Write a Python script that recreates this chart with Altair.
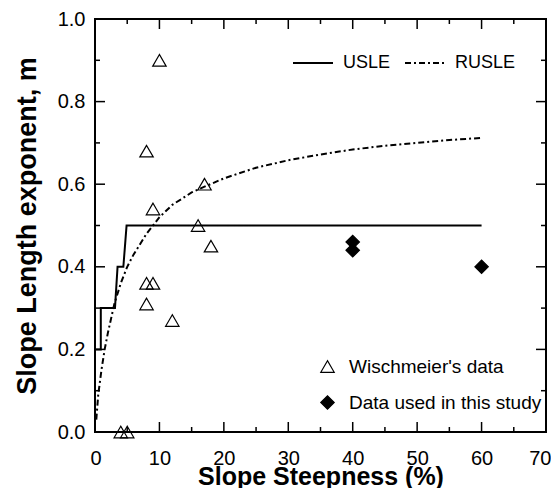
import altair as alt
import pandas as pd

# ---- data ----
model_names = ["USLE", "RUSLE"]
usle_x = [0.0, 0.9, 0.9, 3.1, 3.5, 4.4, 4.9, 60.0]
usle_m = [0.2, 0.2, 0.3, 0.3, 0.4, 0.4, 0.5, 0.5]
rusle_x = [0.2, 0.5, 1, 1.5, 2, 3, 4, 5, 6, 8, 10, 12, 15, 17, 20, 25, 30, 35, 40, 45, 50, 55, 60]
rusle_m = [0.03, 0.09, 0.15, 0.20, 0.24, 0.31, 0.36, 0.40, 0.43, 0.48, 0.52, 0.55, 0.58, 0.594,
           0.614, 0.640, 0.658, 0.672, 0.684, 0.693, 0.700, 0.707, 0.712]

series_names = ["Wischmeier's data", "Data used in this study"]
wisch_x = [4, 5, 8, 8, 8, 9, 9, 10, 12, 16, 17, 18]
wisch_m = [0.0, 0.0, 0.31, 0.36, 0.68, 0.36, 0.54, 0.90, 0.27, 0.50, 0.60, 0.45]
study_x = [40, 40, 60]
study_m = [0.46, 0.44, 0.40]

x_labels = [0, 10, 20, 30, 40, 50, 60, 70]
y_labels = [0.0, 0.2, 0.4, 0.6, 0.8, 1.0]
x_ticks = [0, 5, 10, 15, 20, 25, 30, 35, 40, 45, 50, 55, 60, 65, 70]
y_ticks = [0.0, 0.1, 0.2, 0.3, 0.4, 0.5, 0.6, 0.7, 0.8, 0.9, 1.0]

W, H = 451, 413
MAJOR, MINOR = 10, 5
FONT = "Liberation Sans"

lines = pd.DataFrame({
    "x": usle_x + rusle_x,
    "m": usle_m + rusle_m,
    "model": [model_names[0]] * len(usle_x) + [model_names[1]] * len(rusle_x),
    "order": list(range(len(usle_x))) + list(range(len(rusle_x))),
})
points = pd.DataFrame({
    "x": wisch_x + study_x,
    "m": wisch_m + study_m,
    "series": [series_names[0]] * len(wisch_x) + [series_names[1]] * len(study_x),
})

xs = alt.Scale(domain=[x_ticks[0], x_ticks[-1]], nice=False, zero=False)
ys = alt.Scale(domain=[y_ticks[0], y_ticks[-1]], nice=False, zero=False)

ax_x_lab = alt.Axis(
    orient="bottom", values=x_labels, ticks=False, domain=False, grid=False,
    labelFontSize=20, labelPadding=16,
    labelFlush=True, labelFlushOffset=5,
    labelOverlap=False, labelColor="black", labelFont=FONT,
    title="Slope Steepness (%)", titleFontSize=25, titleFontWeight="bold",
    titlePadding=-4, titleColor="black", titleFont=FONT,
)
ax_y_lab = alt.Axis(
    orient="left", values=y_labels, format=".1f", ticks=False, domain=False,
    grid=False, labelFontSize=20, labelPadding=10, labelFlush=False, labelOverlap=False,
    labelColor="black", labelFont=FONT,
    title="Slope Length exponent, m", titleFontSize=27, titleFontWeight="bold",
    titlePadding=16, titleColor="black", titleFont=FONT,
)

line_legend = alt.Legend(
    title=None, orient="none", direction="horizontal", legendX=197, legendY=23,
    symbolType="stroke", symbolSize=1600, symbolStrokeWidth=2, symbolStrokeColor="black",
    labelFontSize=18, labelOffset=9, columnPadding=10, padding=0, labelColor="black",
    labelFont=FONT, labelLimit=400,
)
shape_legend = alt.Legend(
    title=None, orient="none", direction="vertical", legendX=223, legendY=338,
    symbolSize=180, symbolStrokeColor="black", symbolStrokeWidth=1.2,
    labelFontSize=19, labelOffset=12, rowPadding=16, padding=0, labelColor="black",
    labelFont=FONT, labelLimit=400,
)

shape_scale = alt.Scale(domain=series_names, range=["triangle-up", "diamond"])
fill_scale = alt.Scale(domain=series_names, range=["transparent", "black"])
stroke_scale = alt.Scale(domain=series_names, range=["black", "black"])

line_layer = alt.Chart(lines).mark_line(color="black", strokeWidth=2).encode(
    x=alt.X("x:Q", scale=xs, axis=ax_x_lab),
    y=alt.Y("m:Q", scale=ys, axis=ax_y_lab),
    strokeDash=alt.StrokeDash(
        "model:N",
        scale=alt.Scale(domain=model_names, range=[[1, 0], [6, 3, 2, 3]]),
        legend=line_legend,
    ),
    order="order:Q",
)

point_layer = alt.Chart(points).mark_point(
    filled=True, strokeWidth=1.2, size=180, opacity=1
).encode(
    x=alt.X("x:Q", scale=xs, axis=None),
    y=alt.Y("m:Q", scale=ys, axis=None),
    shape=alt.Shape("series:N", scale=shape_scale, legend=shape_legend),
    fill=alt.Fill("series:N", scale=fill_scale, legend=shape_legend),
    stroke=alt.Stroke("series:N", scale=stroke_scale, legend=shape_legend),
)

# inward frame ticks at the tick values, through the same scales
xt_major = pd.DataFrame({"x": [v for v in x_ticks if v in x_labels]})
xt_minor = pd.DataFrame({"x": [v for v in x_ticks if v not in x_labels]})
yt_major = pd.DataFrame({"y": [v for v in y_ticks if v in y_labels]})
yt_minor = pd.DataFrame({"y": [v for v in y_ticks if v not in y_labels]})


def x_edge_ticks(df, length, edge_value, direction):
    return alt.Chart(df).mark_tick(
        orient="vertical", size=length, thickness=1.5, color="black", opacity=1,
        yOffset=direction * length / 2,
    ).encode(
        x=alt.X("x:Q", scale=xs, axis=None),
        y=alt.YDatum(edge_value, type="quantitative", scale=ys, axis=None),
    )


def y_edge_ticks(df, length, edge_value, direction):
    return alt.Chart(df).mark_tick(
        orient="horizontal", size=length, thickness=1.5, color="black", opacity=1,
        xOffset=direction * length / 2,
    ).encode(
        x=alt.XDatum(edge_value, type="quantitative", scale=xs, axis=None),
        y=alt.Y("y:Q", scale=ys, axis=None),
    )


tick_layers = [
    x_edge_ticks(xt_major, MAJOR, y_ticks[0], -1),
    x_edge_ticks(xt_minor, MINOR, y_ticks[0], -1),
    x_edge_ticks(xt_major, MAJOR, y_ticks[-1], 1),
    x_edge_ticks(xt_minor, MINOR, y_ticks[-1], 1),
    y_edge_ticks(yt_major, MAJOR, x_ticks[0], 1),
    y_edge_ticks(yt_minor, MINOR, x_ticks[0], 1),
    y_edge_ticks(yt_major, MAJOR, x_ticks[-1], -1),
    y_edge_ticks(yt_minor, MINOR, x_ticks[-1], -1),
]

chart = (
    alt.layer(line_layer, point_layer, *tick_layers)
    .resolve_axis(x="independent", y="independent")
    .properties(
        width=W, height=H,
        autosize=alt.AutoSizeParams(type="none"),
        padding={"left": 87, "top": 11, "right": 5, "bottom": 56},
    )
    .configure(font=FONT)
    .configure_view(stroke="black", strokeWidth=2)
)

chart.save("out.html", embed_options={"renderer": "svg", "actions": False})
